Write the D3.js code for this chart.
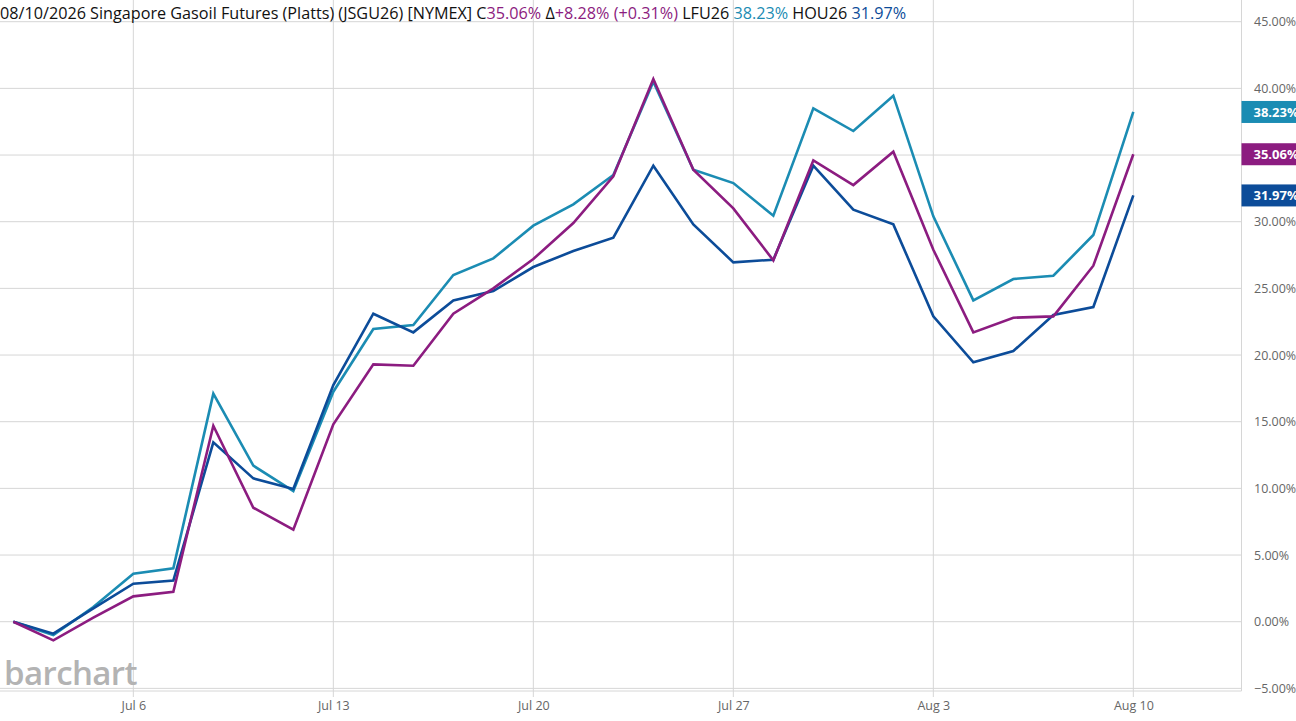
<!DOCTYPE html>
<html>
<head>
<meta charset="utf-8">
<script src="https://cdn.jsdelivr.net/npm/d3@7"></script>
<style>
  body { margin: 0; background: #fff; }
  svg { display: block; font-family: "Open Sans", "Noto Sans", sans-serif; }
</style>
</head>
<body>
<script>
// trading days shown on the chart (index = position on x axis)
var dates = ["Jun 30","Jul 1","Jul 2","Jul 6","Jul 7","Jul 8","Jul 9","Jul 10",
  "Jul 13","Jul 14","Jul 15","Jul 16","Jul 17","Jul 20","Jul 21","Jul 22","Jul 23","Jul 24",
  "Jul 27","Jul 28","Jul 29","Jul 30","Jul 31","Aug 3","Aug 4","Aug 5","Aug 6","Aug 7","Aug 10"];

// percent change series
var jsgu = [0, -1.4, 0.3, 1.9, 2.25, 14.7, 8.55, 6.9, 14.8, 19.3, 19.2, 23.1, 25.0, 27.2, 29.9, 33.4,
  40.7, 33.9, 31.0, 27.1, 34.6, 32.75, 35.25, 27.9, 21.7, 22.8, 22.9, 26.7, 35.06];
var lfu = [0, -1.0, 1.1, 3.6, 4.0, 17.1, 11.7, 9.8, 17.25, 21.95, 22.25, 26.0, 27.25, 29.7, 31.3, 33.5,
  40.5, 33.9, 32.9, 30.45, 38.5, 36.8, 39.45, 30.4, 24.1, 25.7, 25.95, 29.0, 38.23];
var hou = [0, -0.9, 1.0, 2.85, 3.08, 13.45, 10.75, 9.95, 17.75, 23.1, 21.7, 24.1, 24.8, 26.6, 27.8, 28.8,
  34.2, 29.8, 26.95, 27.15, 34.2, 30.9, 29.8, 22.9, 19.45, 20.3, 23.0, 23.6, 31.97];

var tickDays = ["Jul 6", "Jul 13", "Jul 20", "Jul 27", "Aug 3", "Aug 10"];
var yTicks = [-5, 0, 5, 10, 15, 20, 25, 30, 35, 40, 45];

var colPurple = "#8c1c80", colTeal = "#1b8cb3", colBlue = "#0c4c99";

var width = 1296, height = 721;
var plotRight = 1241.5, plotBottom = 691;

var svg = d3.select("body").append("svg")
  .attr("width", width)
  .attr("height", height);

var x = d3.scaleLinear().domain([0, dates.length - 1]).range([13.33, 1133.33]);
var y = d3.scaleLinear().domain([0, 45]).range([621.7, 21.7]);

var series = [
  {name: "LFU26", values: lfu, color: colTeal},
  {name: "HOU26", values: hou, color: colBlue},
  {name: "JSGU26", values: jsgu, color: colPurple}
];
var lastVals = series.map(function(s){ return s.values[s.values.length - 1]; });

// horizontal grid
svg.append("g")
  .selectAll("line")
  .data(yTicks)
  .enter().append("line")
  .attr("x1", 0).attr("x2", plotRight)
  .attr("y1", function(d){ return y(d); })
  .attr("y2", function(d){ return y(d); })
  .attr("stroke", "#d6d6d6")
  .attr("stroke-width", 1);

// vertical grid + ticks
svg.append("g")
  .selectAll("line")
  .data(tickDays)
  .enter().append("line")
  .attr("x1", function(d){ return x(dates.indexOf(d)); })
  .attr("x2", function(d){ return x(dates.indexOf(d)); })
  .attr("y1", 0).attr("y2", 697)
  .attr("stroke", "#d6d6d6")
  .attr("stroke-width", 1);

// frame: bottom and right
svg.append("line")
  .attr("x1", 0).attr("x2", plotRight)
  .attr("y1", plotBottom).attr("y2", plotBottom)
  .attr("stroke", "#d6d6d6");
svg.append("line")
  .attr("x1", plotRight).attr("x2", plotRight)
  .attr("y1", 0).attr("y2", plotBottom)
  .attr("stroke", "#d6d6d6");

// x axis labels
var xAxis = d3.axisBottom(x)
  .tickValues(tickDays.map(function(d){ return dates.indexOf(d); }))
  .tickFormat(function(i){ return dates[i]; })
  .tickSize(0)
  .tickPadding(0);
var gx = svg.append("g")
  .attr("transform", "translate(0," + 701 + ")")
  .call(xAxis);
gx.select(".domain").remove();
gx.selectAll("text")
  .attr("fill", "#666")
  .attr("font-size", 12.5)
  .attr("font-family", "Open Sans, Noto Sans, sans-serif");

// y axis labels (right) - the ones hidden under a value box are left out
var yAxis = d3.axisRight(y)
  .tickValues(yTicks.filter(function(t){
    return lastVals.every(function(v){ return Math.abs(y(t) - y(v)) > 16; });
  }))
  .tickFormat(function(d){ return d3.format(".2f")(d) + "%"; })
  .tickSize(0)
  .tickPadding(0);
var gy = svg.append("g")
  .attr("transform", "translate(" + 1254 + ",0)")
  .call(yAxis);
gy.select(".domain").remove();
gy.selectAll("text")
  .attr("fill", "#666")
  .attr("font-size", 12.5)
  .attr("font-family", "Open Sans, Noto Sans, sans-serif");

// watermark
svg.append("text")
  .attr("x", 4)
  .attr("y", 685)
  .attr("fill", "#b3b3b3")
  .attr("font-size", 33)
  .attr("font-weight", 600)
  .attr("letter-spacing", -0.6)
  .attr("font-family", "Open Sans, sans-serif")
  .text("barchart");

// lines
var line = d3.line()
  .x(function(d, i){ return x(i); })
  .y(function(d){ return y(d); });

svg.append("g")
  .selectAll("path")
  .data(series)
  .enter().append("path")
  .attr("d", function(d){ return line(d.values); })
  .attr("fill", "none")
  .attr("stroke", function(d){ return d.color; })
  .attr("stroke-width", 2.6)
  .attr("stroke-linejoin", "miter");

// last value labels
var last = svg.append("g")
  .selectAll("g")
  .data(series)
  .enter().append("g")
  .attr("transform", function(d){
    return "translate(" + plotRight + "," + y(d.values[d.values.length - 1]) + ")";
  });
last.append("rect")
  .attr("x", 0).attr("y", -11)
  .attr("width", 60).attr("height", 22)
  .attr("fill", function(d){ return d.color; });
last.append("text")
  .attr("x", 12).attr("y", 0)
  .attr("dy", "0.35em")
  .attr("fill", "#fff")
  .attr("font-size", 13)
  .attr("font-weight", "bold")
  .text(function(d){ return d3.format(".2f")(d.values[d.values.length - 1]) + "%"; });

// header
var header = svg.append("text")
  .attr("x", 0)
  .attr("y", 19)
  .attr("font-size", 16.2)
  .attr("fill", "#111");
var parts = [
  ["08/10/2026 Singapore Gasoil Futures (Platts) (JSGU26) [NYMEX] C", "#111"],
  ["35.06%", colPurple],
  [" \u0394", "#111"],
  ["+8.28% (+0.31%)", colPurple],
  [" LFU26 ", "#111"],
  ["38.23%", colTeal],
  [" HOU26 ", "#111"],
  ["31.97%", colBlue]
];
header.selectAll("tspan")
  .data(parts)
  .enter().append("tspan")
  .attr("fill", function(d){ return d[1]; })
  .style("white-space", "pre")
  .text(function(d){ return d[0]; });
</script>
</body>
</html>
